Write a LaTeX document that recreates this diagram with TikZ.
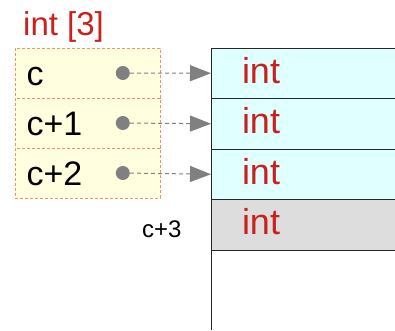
\documentclass[tikz,border=0pt]{standalone}
\usepackage{fontspec}
\setmainfont{Liberation Sans}
\usetikzlibrary{arrows.meta, positioning}
\definecolor{cellred}{HTML}{C9211E}
\definecolor{cellcyan}{HTML}{E0FFFF}
\definecolor{cellgrey}{HTML}{DDDDDD}
\definecolor{ptryellow}{HTML}{FFFFE0}
\definecolor{ptrorange}{HTML}{FF8A65}
\definecolor{linkgrey}{HTML}{808080}
\tikzset{
  x=1pt, y=-1pt,
  node distance=0pt,
  >={Triangle[length=21pt, width=16pt]},
  ptrbox/.style={rectangle, draw=ptrorange, dash pattern=on 3pt off 2pt, line width=0.8pt,
                 fill=ptryellow, minimum width=145pt, minimum height=50pt, text width=122pt,
                 inner xsep=11.5pt, inner ysep=0pt, outer sep=0pt, align=left,
                 text height=24pt, text depth=0pt, font=\fontsize{34}{34}\selectfont},
  cell/.style={rectangle, draw=black!85, line width=1pt, fill=cellcyan, minimum width=200pt,
               minimum height=50.5pt, text width=138pt, inner xsep=31pt, inner ysep=0pt,
               outer sep=0pt, align=left, text height=20pt, text depth=0pt,
               text=cellred, font=\fontsize{36}{36}\selectfont},
  cellx/.style={cell, fill=cellgrey},
  dot/.style={circle, fill=linkgrey, minimum size=14pt, inner sep=0pt},
  link/.style={->, linkgrey, line width=1pt, dash pattern=on 4pt off 3pt},
  lbl/.style={font=\fontsize{24}{24}\selectfont},
}
\begin{document}
\begin{tikzpicture}
  \useasboundingbox (0,0) rectangle (395,330);
  \clip (0,0) rectangle (395,330);
  % array type
  \node[anchor=base west, inner sep=0pt, text=cellred, font=\fontsize{33}{33}\selectfont] (title) at (23,35) {int [3]};
  % pointers
  \node[ptrbox, anchor=north west] (p1) at (15,48) {c};
  \node[ptrbox, below=of p1] (p2) {c+1};
  \node[ptrbox, below=of p2] (p3) {c+2};
  % memory
  \node[cell, anchor=north west] (m1) at (211,48) {int};
  \node[cell, below=of m1] (m2) {int};
  \node[cell, below=of m2] (m3) {int};
  \node[cellx, below=of m3] (m4) {int};
  \coordinate (bottom) at (211,330);
  \draw[black!85, line width=1pt] (m4.south west) -- (bottom);
  \node[lbl, anchor=base west, inner sep=0pt] (end) at (142,237) {c+3};
  % links
  \foreach \i in {1,2,3} {
    \node[dot, left=30pt of p\i.east] (d\i) {};
    \draw[link] (d\i) -- (m\i.west);
  }
\end{tikzpicture}
\end{document}
